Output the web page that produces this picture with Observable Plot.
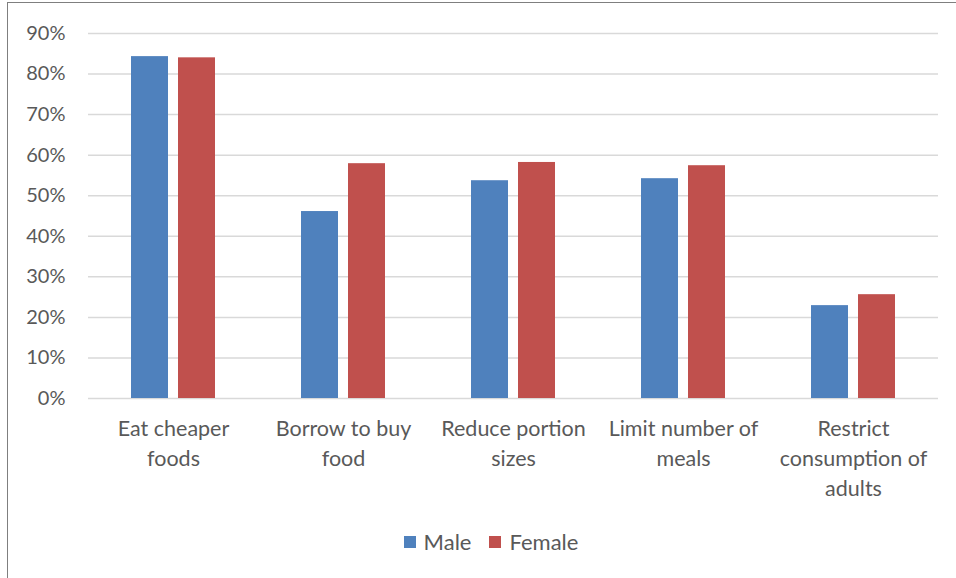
<!DOCTYPE html>
<html>
<head>
<meta charset="utf-8">
<script src="https://cdn.jsdelivr.net/npm/d3@7"></script>
<script src="https://cdn.jsdelivr.net/npm/@observablehq/plot@0.6"></script>
<style>
  html, body { margin: 0; padding: 0; background: #fff; }
  body { width: 956px; height: 578px; overflow: hidden; position: relative; font-family: Lato, "Open Sans", sans-serif; }
  #frame { position: absolute; left: 7px; top: 2px; width: 960px; height: 600px; border-left: 1px solid #7f7f7f; border-top: 1px solid #7f7f7f; pointer-events: none; }
  #legend { display: flex; justify-content: center; align-items: center; gap: 18px; font-size: 22px; color: #595959; margin-top: 8px; padding-left: 26px; }
  #legend .item { display: flex; align-items: center; gap: 8px; }
  #legend .sw { width: 12px; height: 12px; display: inline-block; }
</style>
</head>
<body>
<div id="chart"></div>
<div id="legend"></div>
<div id="frame"></div>
<script>
const categories = ["Eat cheaper foods", "Borrow to buy food", "Reduce portion sizes", "Limit number of meals", "Restrict consumption of adults"];
const categoryLabels = ["Eat cheaper\nfoods", "Borrow to buy\nfood", "Reduce portion\nsizes", "Limit number of\nmeals", "Restrict\nconsumption of\nadults"];
const series = ["Male", "Female"];
const maleValues = [0.843, 0.461, 0.537, 0.542, 0.229];
const femaleValues = [0.840, 0.579, 0.582, 0.574, 0.256];
const colors = ["#4f81bd", "#c0504d"];
const yTicks = [0, 0.1, 0.2, 0.3, 0.4, 0.5, 0.6, 0.7, 0.8, 0.9];

const data = [];
categories.forEach((c, i) => {
  data.push({category: c, series: "Male", value: maleValues[i]});
  data.push({category: c, series: "Female", value: femaleValues[i]});
});
const labelOf = new Map(categories.map((c, i) => [c, categoryLabels[i]]));

const chart = Plot.plot({
  width: 956,
  height: 520,
  marginTop: 33,
  marginBottom: 122,
  marginLeft: 88,
  marginRight: 18,
  style: {fontFamily: "Lato, 'Open Sans', sans-serif", fontSize: "20px", color: "#595959", background: "#fff"},
  fx: {domain: categories, padding: 0, label: null, axis: null},
  x: {domain: series, paddingInner: 0.208, paddingOuter: 0.875, axis: null},
  y: {domain: [0, 0.9], label: null},
  color: {domain: series, range: colors},
  marks: [
    Plot.ruleY(yTicks, {stroke: "#d9d9d9", strokeWidth: 1.5}),
    Plot.barY(data, {fx: "category", x: "series", y: "value", fill: "series"}),
    Plot.axisY(yTicks, {tickSize: 0, tickPadding: 23, tickFormat: d => Math.round(d * 100) + "%", label: null, fill: "#595959", fontSize: 20}),
    Plot.axisFx({anchor: "bottom", tickSize: 0, tickPadding: 16, tickFormat: d => labelOf.get(d), label: null, fill: "#595959", fontSize: 21.5, lineHeight: 1.4, lineAnchor: "top"})
  ]
});
document.getElementById("chart").appendChild(chart);

const legend = document.getElementById("legend");
series.forEach((s, i) => {
  const item = document.createElement("span");
  item.className = "item";
  const sw = document.createElement("span");
  sw.className = "sw";
  sw.style.background = colors[i];
  const t = document.createElement("span");
  t.textContent = s;
  item.appendChild(sw);
  item.appendChild(t);
  legend.appendChild(item);
});
</script>
</body>
</html>
